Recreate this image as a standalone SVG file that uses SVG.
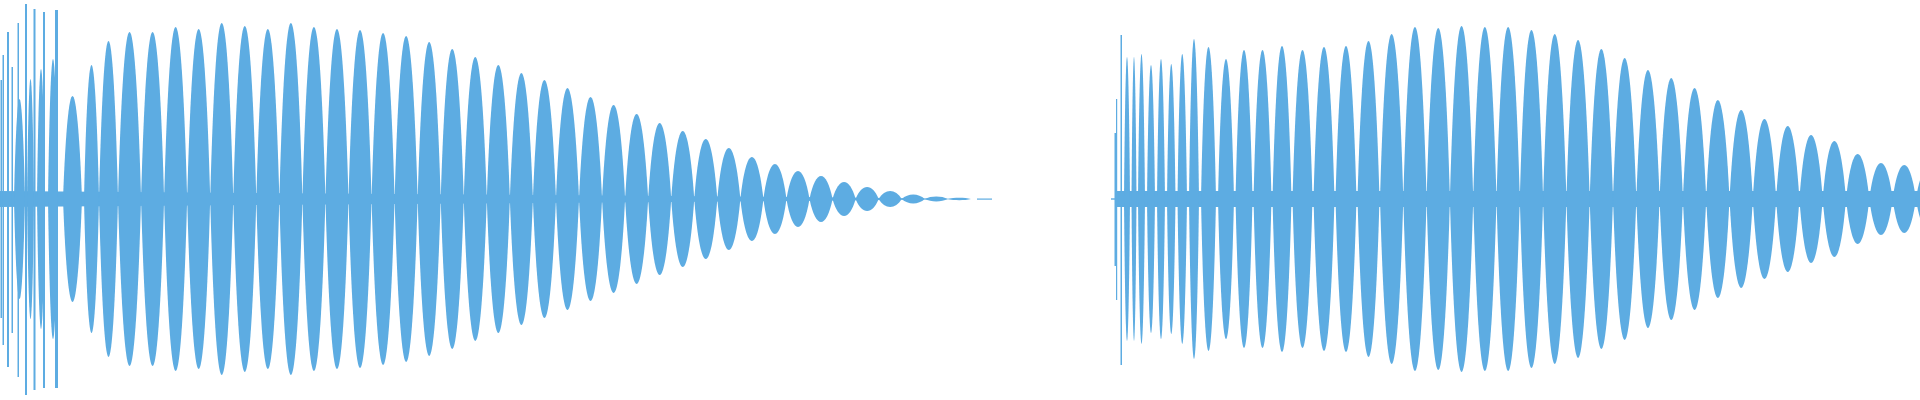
<svg xmlns="http://www.w3.org/2000/svg" width="1920" height="400" viewBox="0 0 1920 400">
<defs><path id="l" d="M0 0C0.27 -1.333 0.73 -1.333 1 0C0.73 1.333 0.27 1.333 0 0Z"/></defs>
<style>path,rect,polygon,use{fill:#5DACE2}</style>
<rect width="1920" height="400" fill="#fff" style="fill:#fff"/>
<g id="left">
<polygon points="0,191 800,197 972,199 800,201 0,207"/>
<rect x="0.5" y="80" width="1.5" height="238"/><rect x="2.5" y="55" width="1.5" height="290"/>
<rect x="7" y="32" width="2" height="335"/><rect x="11.5" y="67" width="1.5" height="266"/>
<rect x="17.5" y="23" width="1.5" height="354"/><rect x="25" y="4" width="2" height="391"/>
<rect x="33.5" y="9" width="2" height="381"/><rect x="43" y="12" width="2" height="376"/>
<rect x="55" y="10" width="3" height="378"/>
<use href="#l" transform="translate(14 199) scale(11 100)"/>
<use href="#l" transform="translate(27 199) scale(7 120)"/>
<use href="#l" transform="translate(37 199) scale(8 130)"/>
<use href="#l" transform="translate(48 199) scale(10 140)"/>
<use href="#l" transform="translate(63 199) scale(19 103)"/>
<use href="#l" transform="translate(84 199) scale(15 134)"/>
<use href="#l" transform="translate(99 199) scale(19 158)"/>
<g id="lobesL">
<use href="#l" transform="translate(118 199) scale(23.05 167)"/>
<use href="#l" transform="translate(141.05 199) scale(23.05 167)"/>
<use href="#l" transform="translate(164.1 199) scale(23.05 172)"/>
<use href="#l" transform="translate(187.15 199) scale(23.05 170)"/>
<use href="#l" transform="translate(210.2 199) scale(23.05 176)"/>
<use href="#l" transform="translate(233.25 199) scale(23.05 173)"/>
<use href="#l" transform="translate(256.3 199) scale(23.05 170)"/>
<use href="#l" transform="translate(279.35 199) scale(23.05 176)"/>
<use href="#l" transform="translate(302.4 199) scale(23.05 172)"/>
<use href="#l" transform="translate(325.45 199) scale(23.05 170)"/>
<use href="#l" transform="translate(348.5 199) scale(23.05 169)"/>
<use href="#l" transform="translate(371.55 199) scale(23.05 166)"/>
<use href="#l" transform="translate(394.6 199) scale(23.05 163)"/>
<use href="#l" transform="translate(417.65 199) scale(23.05 157)"/>
<use href="#l" transform="translate(440.7 199) scale(23.05 150)"/>
<use href="#l" transform="translate(463.75 199) scale(23.05 142)"/>
<use href="#l" transform="translate(486.8 199) scale(23.05 134)"/>
<use href="#l" transform="translate(509.85 199) scale(23.05 126)"/>
<use href="#l" transform="translate(532.9 199) scale(23.05 119)"/>
<use href="#l" transform="translate(555.95 199) scale(23.05 111)"/>
<use href="#l" transform="translate(579 199) scale(23.05 102)"/>
<use href="#l" transform="translate(602.05 199) scale(23.05 94)"/>
<use href="#l" transform="translate(625.1 199) scale(23.05 85)"/>
<use href="#l" transform="translate(648.15 199) scale(23.05 76)"/>
<use href="#l" transform="translate(671.2 199) scale(23.05 68)"/>
<use href="#l" transform="translate(694.25 199) scale(23.05 60)"/>
<use href="#l" transform="translate(717.3 199) scale(23.05 51)"/>
<use href="#l" transform="translate(740.35 199) scale(23.05 42)"/>
<use href="#l" transform="translate(763.4 199) scale(23.05 35)"/>
<use href="#l" transform="translate(786.45 199) scale(23.05 28)"/>
<use href="#l" transform="translate(809.5 199) scale(23.05 23)"/>
<use href="#l" transform="translate(832.55 199) scale(23.05 17)"/>
<use href="#l" transform="translate(855.6 199) scale(23.05 12)"/>
<use href="#l" transform="translate(878.65 199) scale(23.05 8)"/>
<use href="#l" transform="translate(901.7 199) scale(23.05 4.5)"/>
<use href="#l" transform="translate(924.75 199) scale(23.05 2.5)"/>
<use href="#l" transform="translate(947.8 199) scale(23.05 1.2)"/>
</g>
<rect x="977" y="198.5" width="15" height="1.2"/>
</g>
<g id="right">
<rect x="1111" y="198.3" width="6" height="1.4"/>
<rect x="1114.5" y="133" width="1.5" height="133"/><rect x="1116" y="99" width="1.2" height="201"/>
<rect x="1120.5" y="35" width="1.5" height="330"/>
<rect x="1117" y="191" width="803" height="16"/>
<use href="#l" transform="translate(1124 199) scale(6 142)"/>
<use href="#l" transform="translate(1131.5 199) scale(5 142)"/>
<use href="#l" transform="translate(1138 199) scale(7 145)"/>
<use href="#l" transform="translate(1147 199) scale(8 134)"/>
<use href="#l" transform="translate(1157 199) scale(8 140)"/>
<use href="#l" transform="translate(1167 199) scale(8.5 135)"/>
<use href="#l" transform="translate(1177.5 199) scale(9.5 145)"/>
<use href="#l" transform="translate(1189 199) scale(10 160)"/>
<use href="#l" transform="translate(1201 199) scale(15 152)"/>
<use href="#l" transform="translate(1218 199) scale(16 140)"/>
<use href="#l" transform="translate(1235.5 199) scale(17 149)"/>
<use href="#l" transform="translate(1253.5 199) scale(18 149)"/>
<use href="#l" transform="translate(1272.5 199) scale(19 153)"/>
<use href="#l" transform="translate(1292.5 199) scale(20 149)"/>
<use href="#l" transform="translate(1313.5 199) scale(21 152)"/>
<use href="#l" transform="translate(1335.5 199) scale(21 153)"/>
<use href="#l" transform="translate(1357.5 199) scale(22 158)"/>
<use href="#l" transform="translate(1380 199) scale(23.3 165)"/>
<use href="#l" transform="translate(1403.3 199) scale(23.3 172)"/>
<use href="#l" transform="translate(1426.6 199) scale(23.3 171)"/>
<use href="#l" transform="translate(1449.9 199) scale(23.3 173)"/>
<use href="#l" transform="translate(1473.2 199) scale(23.3 172)"/>
<use href="#l" transform="translate(1496.5 199) scale(23.3 172)"/>
<use href="#l" transform="translate(1519.8 199) scale(23.3 169)"/>
<use href="#l" transform="translate(1543.1 199) scale(23.3 165)"/>
<use href="#l" transform="translate(1566.4 199) scale(23.3 159)"/>
<use href="#l" transform="translate(1589.7 199) scale(23.3 150)"/>
<use href="#l" transform="translate(1613 199) scale(23.3 141)"/>
<use href="#l" transform="translate(1636.3 199) scale(23.3 129)"/>
<use href="#l" transform="translate(1659.6 199) scale(23.3 121)"/>
<use href="#l" transform="translate(1682.9 199) scale(23.3 111)"/>
<use href="#l" transform="translate(1706.2 199) scale(23.3 99)"/>
<use href="#l" transform="translate(1729.5 199) scale(23.3 89)"/>
<use href="#l" transform="translate(1752.8 199) scale(23.3 80)"/>
<use href="#l" transform="translate(1776.1 199) scale(23.3 73)"/>
<use href="#l" transform="translate(1799.4 199) scale(23.3 64)"/>
<use href="#l" transform="translate(1822.7 199) scale(23.3 58)"/>
<use href="#l" transform="translate(1846 199) scale(23.3 45)"/>
<use href="#l" transform="translate(1869.3 199) scale(23.3 36)"/>
<use href="#l" transform="translate(1892.6 199) scale(23.3 34)"/>
<use href="#l" transform="translate(1915.9 199) scale(23.3 30)"/>
</g>
</svg>
